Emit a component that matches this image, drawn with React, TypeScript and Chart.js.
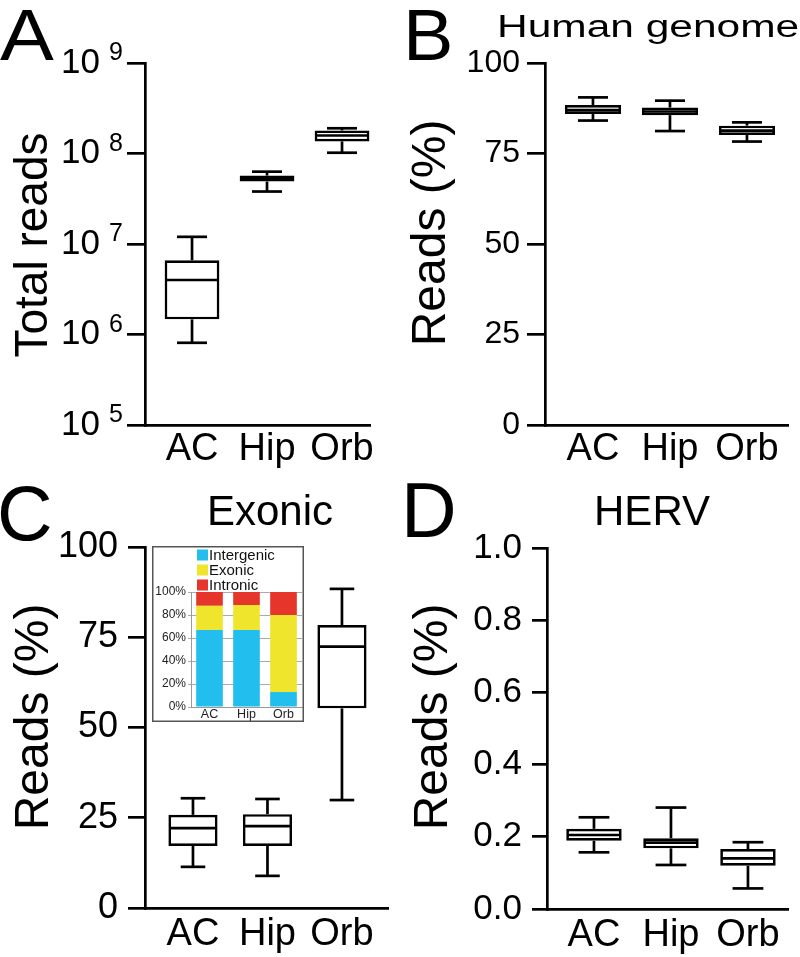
import React, { useEffect, useRef } from 'react';
import { Chart, registerables } from 'chart.js';

Chart.register(...registerables);

const FONT = "'Liberation Sans', Arial, Helvetica, sans-serif";
const LW = 2.7;

const categories = ['AC', 'Hip', 'Orb'];

// Panel A: total reads (log scale)
const totalReadsMin = [8.1e5, 3.8e7, 1.02e8];
const totalReadsQ1 = [1.47e6, 4.9e7, 1.36e8];
const totalReadsMedian = [4.0e6, 5.3e7, 1.58e8];
const totalReadsQ3 = [6.6e6, 5.7e7, 1.8e8];
const totalReadsMax = [1.2e7, 6.3e7, 1.9e8];
const totalReadsTicks = [1e5, 1e6, 1e7, 1e8, 1e9];

// Panel B: human genome reads (%)
const genomeMin = [84.1, 81.2, 78.3];
const genomeQ1 = [85.9, 85.6, 80.1];
const genomeMedian = [87.0, 86.6, 81.3];
const genomeQ3 = [88.4, 87.7, 82.7];
const genomeMax = [90.5, 89.6, 83.6];

// Panel C: exonic reads (%)
const exonicMin = [11.4, 8.9, 29.9];
const exonicQ1 = [17.2, 17.2, 55.3];
const exonicMedian = [22.1, 22.7, 72.4];
const exonicQ3 = [25.8, 26.0, 78.4];
const exonicMax = [30.4, 30.2, 88.4];

const percentTicks = [0, 25, 50, 75, 100];

// Panel D: HERV reads (%)
const hervMin = [0.157, 0.122, 0.057];
const hervQ1 = [0.189, 0.168, 0.12];
const hervMedian = [0.205, 0.184, 0.14];
const hervQ3 = [0.222, 0.196, 0.166];
const hervMax = [0.254, 0.281, 0.185];
const hervTicks = [0, 0.2, 0.4, 0.6, 0.8, 1.0];

// Inset: read composition (%)
const insetLabels = ['Intergenic', 'Exonic', 'Intronic'];
const insetIntergenic = [67, 67, 13];
const insetExonic = [21, 21.7, 67];
const insetIntronic = [12, 11.3, 20];
const insetTicks = [0, 20, 40, 60, 80, 100];
const insetColors = ['#22BEEE', '#EEE52C', '#E6352B'];

type Stats = { min: number[]; q1: number[]; med: number[]; q3: number[]; max: number[] };
type TextItem = {
  text: string; x: number; y: number; size: number;
  align?: CanvasTextAlign; rotate?: boolean; scaleX?: number;
};

interface PanelProps {
  left: number; top: number; width: number; height: number;
  area: { left: number; top: number; right: number; bottom: number };
  xRange: [number, number];
  stats: Stats;
  boxWidth: number; capWidth: number;
  yType: 'linear' | 'logarithmic';
  yTicks: number[];
  yLabel: (v: number) => string;
  yFont: number; yPad: number; tickLen: number;
  xFont: number; xPad: number;
  exponent?: boolean;
  texts: TextItem[];
}

function BoxPanel(p: PanelProps) {
  const ref = useRef<HTMLCanvasElement | null>(null);
  useEffect(() => {
    if (!ref.current) return;
    const s = p.stats;
    const whiskers = {
      id: 'boxWhiskers',
      afterDatasetsDraw(chart: any) {
        const x = chart.scales.x;
        const y = chart.scales.y;
        const ctx = chart.ctx as CanvasRenderingContext2D;
        ctx.save();
        ctx.strokeStyle = '#000';
        ctx.lineWidth = LW;
        ctx.lineCap = 'butt';
        const line = (x1: number, y1: number, x2: number, y2: number) => {
          ctx.beginPath();
          ctx.moveTo(x1, y1);
          ctx.lineTo(x2, y2);
          ctx.stroke();
        };
        s.med.forEach((_, i) => {
          const v = i + 1;
          const cx = x.getPixelForValue(v);
          const half = Math.abs(x.getPixelForValue(v + p.boxWidth / 2) - cx);
          const capHalf = Math.abs(x.getPixelForValue(v + p.capWidth / 2) - cx);
          const yMin = y.getPixelForValue(s.min[i]);
          const yQ1 = y.getPixelForValue(s.q1[i]);
          const yMed = y.getPixelForValue(s.med[i]);
          const yQ3 = y.getPixelForValue(s.q3[i]);
          const yMax = y.getPixelForValue(s.max[i]);
          line(cx, yQ3, cx, yMax);
          line(cx - capHalf, yMax, cx + capHalf, yMax);
          line(cx, yQ1, cx, yMin);
          line(cx - capHalf, yMin, cx + capHalf, yMin);
          line(cx - half + 1, yMed, cx + half - 1, yMed);
        });
        ctx.restore();
      },
    };
    const texts = {
      id: 'panelText',
      afterDraw(chart: any) {
        const ctx = chart.ctx as CanvasRenderingContext2D;
        ctx.save();
        ctx.fillStyle = '#000';
        ctx.textBaseline = 'alphabetic';
        for (const it of p.texts) {
          ctx.save();
          ctx.font = `${it.size}px ${FONT}`;
          ctx.textAlign = it.align || 'left';
          ctx.translate(it.x, it.y);
          if (it.rotate) ctx.rotate(-Math.PI / 2);
          if (it.scaleX) ctx.scale(it.scaleX, 1);
          ctx.fillText(it.text, 0, 0);
          ctx.restore();
        }
        if (p.exponent) {
          const y = chart.scales.y;
          ctx.font = `25px ${FONT}`;
          ctx.textAlign = 'right';
          for (const t of y.ticks) {
            const py = y.getPixelForValue(t.value);
            ctx.fillText(String(Math.round(Math.log10(t.value))), p.area.left - p.tickLen - 4, py - 3);
          }
        }
        ctx.restore();
      },
    };
    const chart = new Chart(ref.current, {
      type: 'bar',
      data: {
        datasets: [
          {
            data: categories.map((_, i) => ({ x: i + 1, y: [s.q1[i], s.q3[i]] })) as any,
            backgroundColor: '#fff',
            borderColor: '#000',
            borderWidth: LW,
            borderSkipped: false,
            barPercentage: p.boxWidth,
            categoryPercentage: 1,
            inflateAmount: 0,
          } as any,
        ],
      },
      options: {
        responsive: false,
        animation: false,
        layout: { padding: { left: 0, top: p.area.top, right: p.width - p.area.right, bottom: 0 } },
        plugins: { legend: { display: false }, tooltip: { enabled: false } },
        scales: {
          x: {
            type: 'linear',
            min: p.xRange[0],
            max: p.xRange[1],
            offset: false,
            afterBuildTicks: (sc: any) => {
              sc.ticks = categories.map((_, i) => ({ value: i + 1 }));
            },
            afterFit: (sc: any) => {
              sc.height = p.height - p.area.bottom;
            },
            grid: { display: false, drawTicks: false },
            border: { display: true, color: '#000', width: LW },
            ticks: {
              autoSkip: false,
              maxRotation: 0,
              minRotation: 0,
              padding: p.xPad,
              color: '#000',
              font: { family: FONT, size: p.xFont },
              callback: (v: any) => categories[Math.round(Number(v)) - 1] ?? '',
            },
          },
          y: {
            type: p.yType,
            min: p.yTicks[0],
            max: p.yTicks[p.yTicks.length - 1],
            afterBuildTicks: (sc: any) => {
              sc.ticks = p.yTicks.map((v) => ({ value: v }));
            },
            afterFit: (sc: any) => {
              sc.width = p.area.left;
            },
            grid: {
              display: true,
              drawOnChartArea: false,
              drawTicks: true,
              tickLength: p.tickLen,
              color: '#000',
              lineWidth: LW,
            },
            border: { display: true, color: '#000', width: LW },
            ticks: {
              padding: p.yPad,
              color: '#000',
              autoSkip: false,
              font: { family: FONT, size: p.yFont },
              callback: (v: any) => p.yLabel(Number(v)),
            },
          } as any,
        },
      },
      plugins: [whiskers, texts],
    });
    return () => chart.destroy();
  }, []);
  return (
    <canvas
      ref={ref}
      width={p.width}
      height={p.height}
      style={{ position: 'absolute', left: p.left, top: p.top, display: 'block' }}
    />
  );
}

function InsetChart() {
  const ref = useRef<HTMLCanvasElement | null>(null);
  const W = 152;
  const H = 176;
  useEffect(() => {
    if (!ref.current) return;
    const frame = {
      id: 'insetFrame',
      beforeDraw(chart: any) {
        const ctx = chart.ctx as CanvasRenderingContext2D;
        ctx.save();
        ctx.fillStyle = '#fff';
        ctx.fillRect(0, 0, W, H);
        ctx.restore();
      },
      afterDraw(chart: any) {
        const ctx = chart.ctx as CanvasRenderingContext2D;
        ctx.save();
        ctx.strokeStyle = '#555';
        ctx.lineWidth = 1.5;
        ctx.strokeRect(0.75, 0.75, W - 1.5, H - 1.5);
        ctx.font = `15px ${FONT}`;
        ctx.textBaseline = 'middle';
        ctx.textAlign = 'left';
        chart.data.datasets.forEach((ds: any, i: number) => {
          const cy = 9 + i * 15;
          ctx.fillStyle = ds.backgroundColor;
          ctx.fillRect(45, cy - 5.5, 11, 11);
          ctx.fillStyle = '#111';
          ctx.fillText(ds.label, 57, cy + 0.5);
        });
        ctx.restore();
      },
    };
    const chart = new Chart(ref.current, {
      type: 'bar',
      data: {
        labels: categories,
        datasets: [
          { label: insetLabels[0], data: insetIntergenic, backgroundColor: insetColors[0] },
          { label: insetLabels[1], data: insetExonic, backgroundColor: insetColors[1] },
          { label: insetLabels[2], data: insetIntronic, backgroundColor: insetColors[2] },
        ],
      },
      options: {
        responsive: false,
        animation: false,
        datasets: { bar: { barPercentage: 0.72, categoryPercentage: 1, borderWidth: 0 } },
        layout: { padding: { top: 46, right: 2, left: 0, bottom: 0 } },
        plugins: { legend: { display: false }, tooltip: { enabled: false } },
        scales: {
          x: {
            stacked: true,
            grid: { display: false, drawTicks: false },
            border: { display: true, color: '#999', width: 1 },
            afterFit: (sc: any) => {
              sc.height = 15;
            },
            ticks: {
              padding: 0,
              color: '#222',
              maxRotation: 0,
              autoSkip: false,
              font: { family: FONT, size: 12.5 },
            },
          },
          y: {
            stacked: true,
            min: 0,
            max: 100,
            afterBuildTicks: (sc: any) => {
              sc.ticks = insetTicks.map((v) => ({ value: v }));
            },
            afterFit: (sc: any) => {
              sc.width = 39;
            },
            grid: { color: '#aaa', lineWidth: 1, tickLength: 3 },
            border: { display: true, color: '#999', width: 1 },
            ticks: {
              padding: 2,
              color: '#222',
              font: { family: FONT, size: 12 },
              callback: (v: any) => `${v}%`,
            },
          },
        },
      },
      plugins: [frame],
    });
    return () => chart.destroy();
  }, []);
  return (
    <canvas
      ref={ref}
      width={W}
      height={H}
      style={{ position: 'absolute', left: 152, top: 546, display: 'block' }}
    />
  );
}

const statsA: Stats = { min: totalReadsMin, q1: totalReadsQ1, med: totalReadsMedian, q3: totalReadsQ3, max: totalReadsMax };
const statsB: Stats = { min: genomeMin, q1: genomeQ1, med: genomeMedian, q3: genomeQ3, max: genomeMax };
const statsC: Stats = { min: exonicMin, q1: exonicQ1, med: exonicMedian, q3: exonicQ3, max: exonicMax };
const statsD: Stats = { min: hervMin, q1: hervQ1, med: hervMedian, q3: hervQ3, max: hervMax };

export default function App() {
  return (
    <div
      style={{
        position: 'absolute',
        left: 0,
        top: 0,
        width: 800,
        height: 957,
        background: '#fff',
        overflow: 'hidden',
      }}
    >
      <BoxPanel
        left={0} top={0} width={400} height={478}
        area={{ left: 145, top: 63, right: 370, bottom: 425 }}
        xRange={[0.373, 3.373]}
        stats={statsA}
        boxWidth={0.73} capWidth={0.4}
        yType="logarithmic"
        yTicks={totalReadsTicks}
        yLabel={() => '10'}
        yFont={35} yPad={27} tickLen={18}
        xFont={38} xPad={2}
        exponent
        texts={[
          { text: 'A', x: 0, y: 60, size: 72, scaleX: 1.12 },
          { text: 'Total reads', x: 47, y: 245, size: 46, align: 'center', rotate: true },
        ]}
      />
      <BoxPanel
        left={400} top={0} width={400} height={478}
        area={{ left: 145, top: 63, right: 388, bottom: 425 }}
        xRange={[0.377, 3.533]}
        stats={statsB}
        boxWidth={0.73} capWidth={0.39}
        yType="linear"
        yTicks={percentTicks}
        yLabel={(v) => String(v)}
        yFont={32} yPad={7} tickLen={18}
        xFont={38} xPad={2}
        texts={[
          { text: 'B', x: 3, y: 60, size: 72, scaleX: 1.05 },
          { text: 'Human genome', x: 97, y: 37, size: 31, scaleX: 1.37 },
          { text: 'Reads (%)', x: 45, y: 233, size: 48, align: 'center', rotate: true },
        ]}
      />
      <BoxPanel
        left={0} top={478} width={400} height={479}
        area={{ left: 145, top: 69, right: 388, bottom: 430 }}
        xRange={[0.356, 3.618]}
        stats={statsC}
        boxWidth={0.66} capWidth={0.33}
        yType="linear"
        yTicks={percentTicks}
        yLabel={(v) => String(v)}
        yFont={36} yPad={10} tickLen={17}
        xFont={38} xPad={4}
        texts={[
          { text: 'C', x: -3, y: 62, size: 77 },
          { text: 'Exonic', x: 270, y: 47, size: 42, align: 'center' },
          { text: 'Reads (%)', x: 48, y: 239, size: 48, align: 'center', rotate: true },
        ]}
      />
      <BoxPanel
        left={400} top={478} width={400} height={479}
        area={{ left: 147, top: 70, right: 388, bottom: 431 }}
        xRange={[0.39, 3.52]}
        stats={statsD}
        boxWidth={0.72} capWidth={0.4}
        yType="linear"
        yTicks={hervTicks}
        yLabel={(v) => v.toFixed(1)}
        yFont={35} yPad={10} tickLen={15}
        xFont={38} xPad={4}
        texts={[
          { text: 'D', x: 1, y: 59, size: 77 },
          { text: 'HERV', x: 252, y: 47, size: 42, align: 'center' },
          { text: 'Reads (%)', x: 47, y: 239, size: 48, align: 'center', rotate: true },
        ]}
      />
      <InsetChart />
    </div>
  );
}
